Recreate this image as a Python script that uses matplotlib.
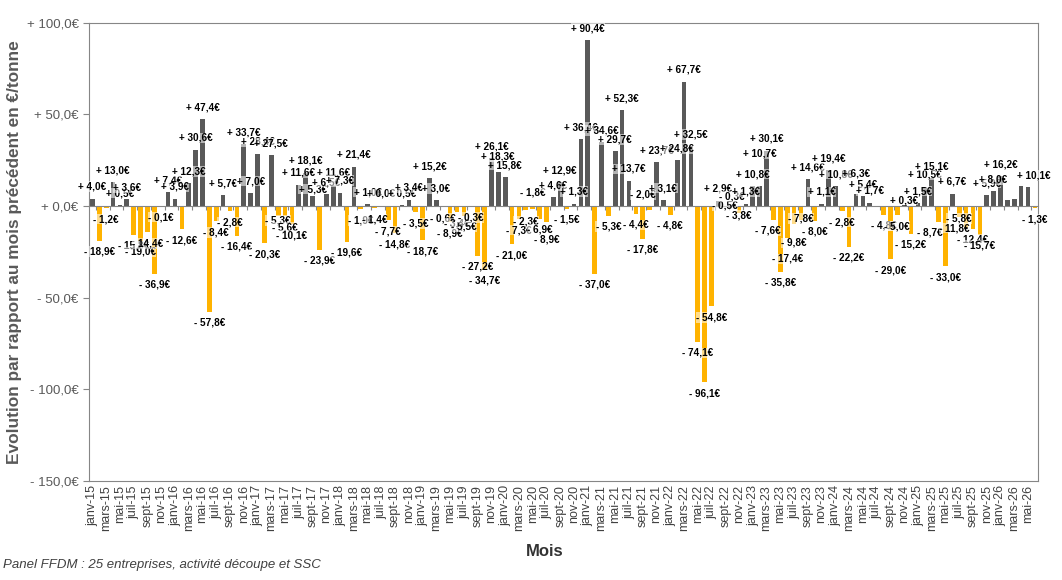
import numpy as np
import matplotlib
matplotlib.use('Agg')
from matplotlib import pyplot as plt

plt.rcParams['font.family'] = ['Liberation Sans', 'DejaVu Sans']

# monthly change, janv-15 .. juin-26 (EUR/tonne)
values = [
    4.0, -18.9, -1.2, 13.0, 0.5, 3.6, -15.8, -19.0, -14.4, -36.9, -0.1, 7.4,
    3.9, -12.6, 12.3, 30.6, 47.4, -57.8, -8.4, 5.7, -2.8, -16.4, 33.7, 7.0,
    28.4, -20.3, 27.5, -5.3, -5.6, -10.1, 11.6, 18.1, 5.3, -23.9, 6.5, 11.6,
    7.3, -19.6, 21.4, -1.9, 1.0, -1.4, 0.0, -7.7, -14.8, 0.5, 3.4, -3.5,
    -18.7, 15.2, 3.0, -0.6, -8.9, -3.4, -5.5, -0.3, -27.2, -34.7, 26.1, 18.3,
    15.8, -21.0, -7.3, -2.3, -1.8, -6.9, -8.9, 4.6, 12.9, -1.5, 1.3, 36.4,
    90.4, -37.0, 34.6, -5.3, 29.7, 52.3, 13.7, -4.4, -17.8, -2.0, 23.7, 3.1,
    -4.8, 24.8, 67.7, 32.5, -74.1, -96.1, -54.8, 2.9, -0.5, -0.3, -3.8, 1.3,
    10.8, 10.7, 30.1, -7.6, -35.8, -17.4, -9.8, -7.8, 14.6, -8.0, 1.1, 19.4,
    10.8, -2.8, -22.2, 6.3, 5.4, 1.7, 0.0, -4.8, -29.0, -5.0, 0.3, -15.2,
    1.5, 10.5, 15.1, -8.7, -33.0, 6.7, -5.8, -11.8, -12.4, -15.7, 5.9, 8.0,
    16.2, 3.0, 3.5, 10.9, 10.1, -1.3,
]
# bars whose label is not visible in the source
hidden_labels = [114, 133, 134, 135]
# labels that were moved by hand in the source (y in EUR, x in months)
label_dy = {27: 3.3, 32: -2.7, 59: 2.2, 64: 15.0, 66: -3.6, 81: 14.0,
            92: 6.5, 93: 11.4, 94: 4.5, 97: 11.4, 101: -5.4, 102: -4.4,
            103: 7.0, 111: 5.0, 118: -3.6, 126: 5.0, 127: 5.6}
label_dx = {81: -1.0, 99: -0.8, 123: -1.2, 127: -1.7, 136: 0.9}

month_names = ['janv', 'févr', 'mars', 'avr', 'mai', 'juin',
               'juil', 'août', 'sept', 'oct', 'nov', 'déc']
years = list(range(15, 27))

months = []
for y in years:
    for m in month_names:
        months.append(f'{m}-{y}')
months = months[:len(values)]

GREY_BAR = '#595959'
ORANGE = '#FFB300'
AXIS_GREY = '#868686'
TEXT_GREY = '#595959'


def fmt(v):
    sign = '+' if v >= 0 else '-'
    return f'{sign} {abs(v):.1f}€'.replace('.', ',')


n = len(values)
x = np.arange(n)
colors = [GREY_BAR if v >= 0 else ORANGE for v in values]

fig = plt.figure(figsize=(10.62, 5.8), dpi=100)
ax = fig.add_axes([0.0838, 0.1707, 0.8939, 0.7905])

ax.bar(x, values, width=0.68, color=colors, zorder=2)

for i, v in enumerate(values):
    if i in hidden_labels:
        continue
    ty = v + 6.5 if v >= 0 else v - 6.0
    ty += label_dy.get(i, 0)
    tx = i + label_dx.get(i, 0)
    ax.text(tx, ty, fmt(v), ha='center', va='center', fontsize=7.2,
            fontweight='bold', color='black', zorder=3,
            bbox=dict(facecolor='white', alpha=0.55, edgecolor='none', pad=0.15))

ax.set_xlim(-0.5, n - 0.5)
ax.set_ylim(-150, 100)

# category axis crosses at zero, labels sit at the bottom
ax.spines['bottom'].set_position(('data', 0))
ax.spines['bottom'].set_color(AXIS_GREY)
ax.spines['bottom'].set_zorder(2.5)
ax.set_xticks(np.arange(1, n, 2) - 0.5)
ax.tick_params(axis='x', length=3, color=AXIS_GREY, labelbottom=False)

sec = ax.secondary_xaxis('bottom')
sec.set_xticks(np.arange(0, n, 2), labels=months[::2], rotation=90)
sec.tick_params(length=0, labelsize=9, labelcolor='#404040', pad=3)
sec.spines['bottom'].set_color(AXIS_GREY)

for s in ['left', 'right', 'top']:
    ax.spines[s].set_color(AXIS_GREY)

yt = [-150, -100, -50, 0, 50, 100]
ax.set_yticks(yt, labels=[fmt(v) for v in yt])
ax.tick_params(axis='y', length=4, color=AXIS_GREY, labelsize=9.5,
               labelcolor=TEXT_GREY)

fig.text(15 / 1062, 0.565, 'Evolution par rapport au mois précédent en €/tonne',
         rotation=90, ha='center', va='center', fontsize=12.4,
         fontweight='bold', color=TEXT_GREY)
fig.text(545 / 1062, 1 - 551 / 580, 'Mois', ha='center', va='center',
         fontsize=12, fontweight='bold', color='#333333')
fig.text(3 / 1062, 1 - 565 / 580,
         'Panel FFDM : 25 entreprises, activité découpe et SSC',
         ha='left', va='center', fontsize=9.5, style='italic', color='#404040')

fig.savefig('out.png', dpi=100)
